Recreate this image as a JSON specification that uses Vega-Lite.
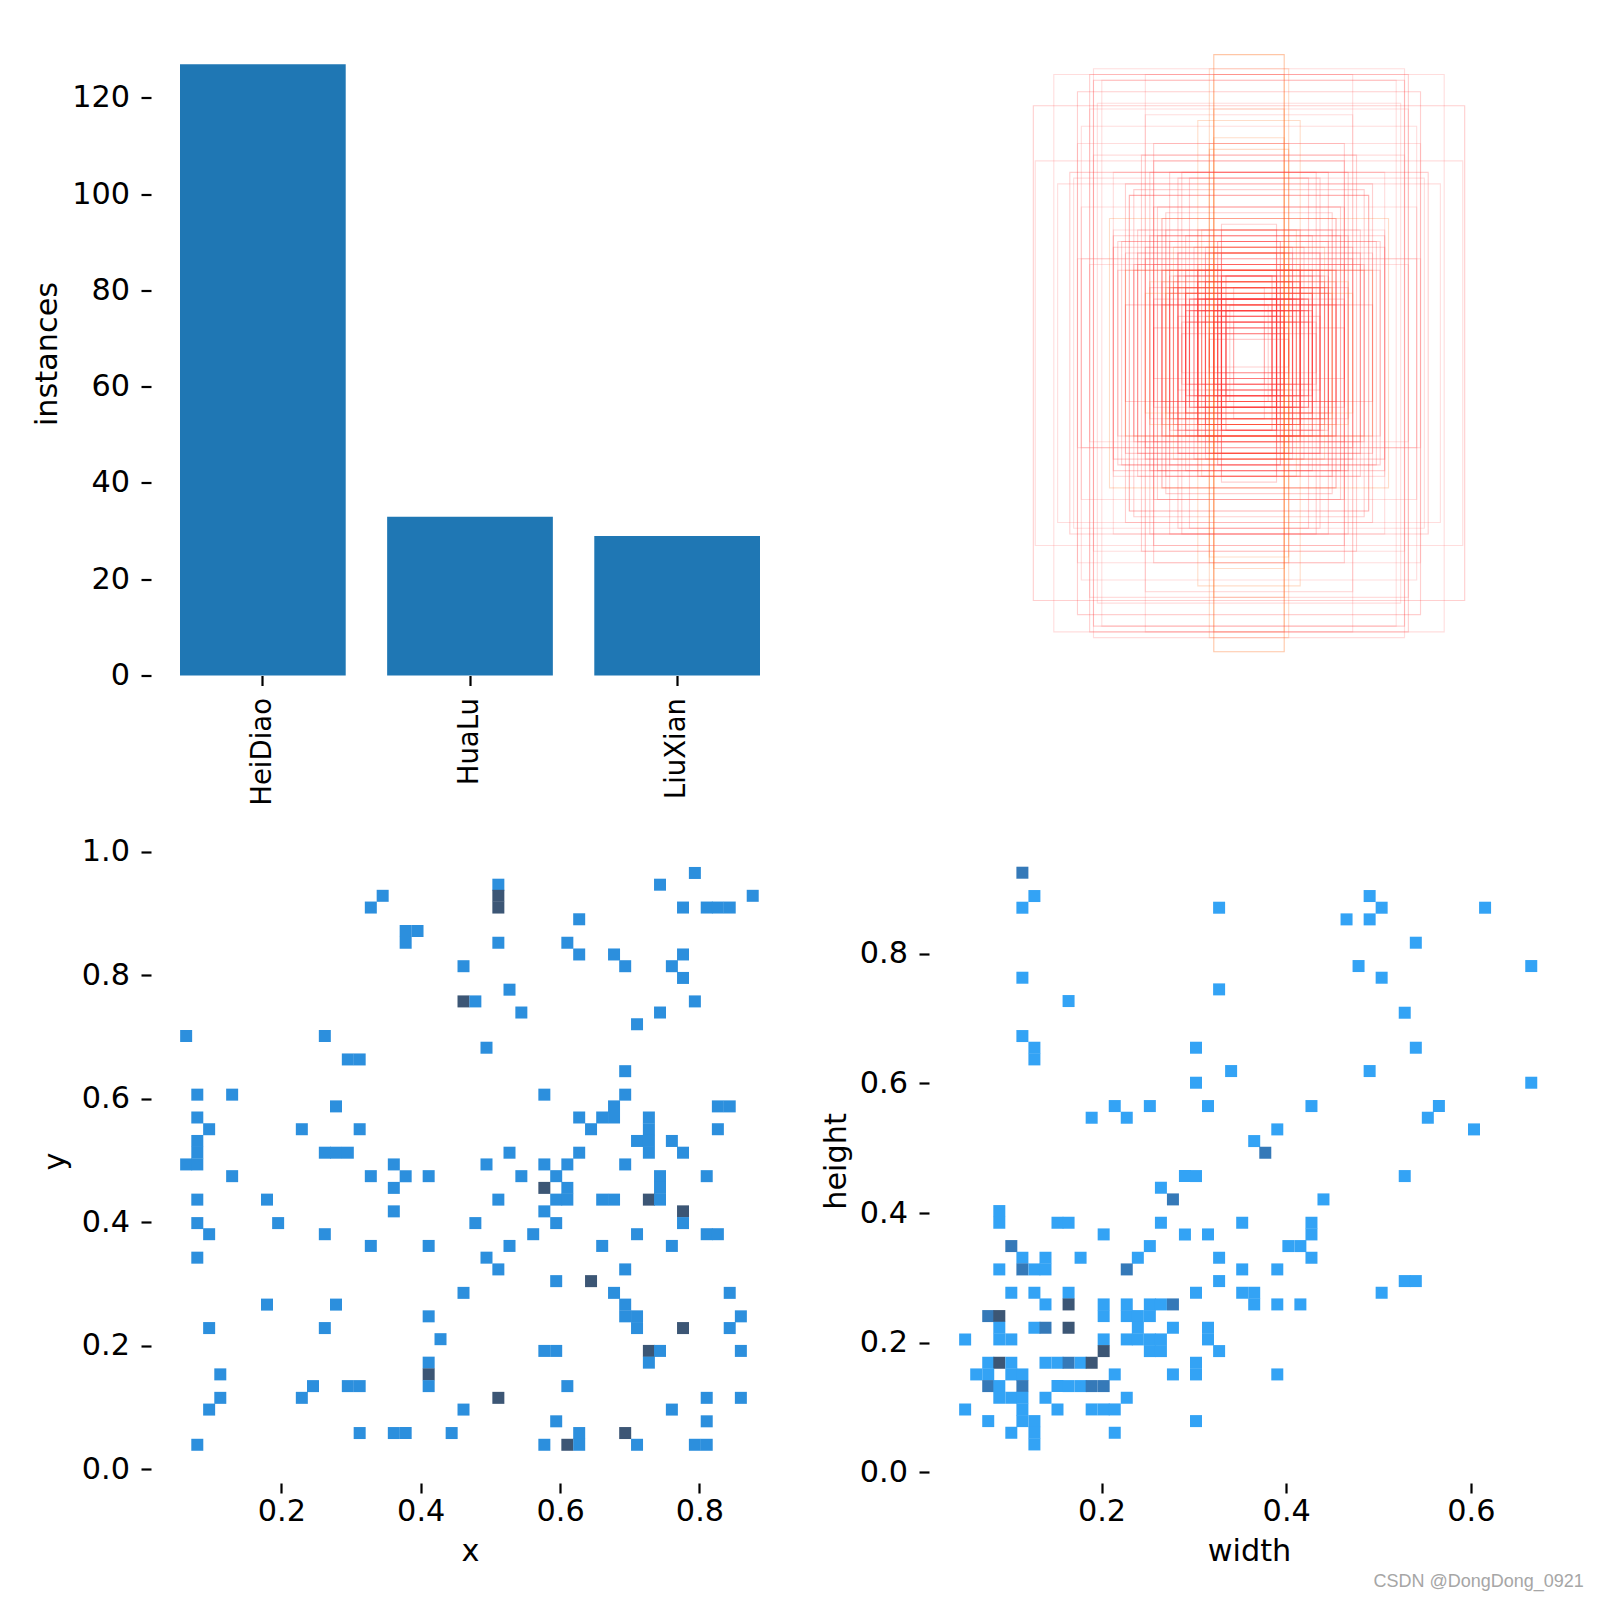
{"$schema":"https://vega.github.io/schema/vega-lite/v6.json","padding":{"left":32,"top":31.5,"right":0,"bottom":0},"background":"white","columns":2,"bounds":"flush","spacing":{"row":163.5,"column":140},"resolve":{"scale":{"color":"independent","stroke":"independent","strokeOpacity":"independent"}},
"config":{"view":{"stroke":null},"font":"DejaVu Sans","axis":{"domain":false,"grid":false,"tickColor":"#000","tickSize":10,"tickWidth":2.2,"labelColor":"#000","titleColor":"#000","labelFont":"DejaVu Sans","titleFont":"DejaVu Sans","labelFontSize":30.3,"titleFontSize":30.3,"titleFontWeight":"normal","labelPadding":11.5,"titlePadding":8,"labelOverlap":false,"labelFlush":false}},
"datasets":{
"classes":[{"name":"HeiDiao","count":127},{"name":"HuaLu","count":33},{"name":"LiuXian","count":29}],
"xy":[{"x":0.792,"y":0.966,"n":1},{"x":0.510,"y":0.947,"n":1},{"x":0.742,"y":0.947,"n":1},{"x":0.344,"y":0.929,"n":1},{"x":0.510,"y":0.929,"n":2},{"x":0.875,"y":0.929,"n":1},{"x":0.327,"y":0.910,"n":1},{"x":0.510,"y":0.910,"n":2},{"x":0.775,"y":0.910,"n":1},{"x":0.809,"y":0.910,"n":1},{"x":0.825,"y":0.910,"n":1},{"x":0.842,"y":0.910,"n":1},{"x":0.626,"y":0.891,"n":1},{"x":0.377,"y":0.872,"n":1},{"x":0.394,"y":0.872,"n":1},{"x":0.377,"y":0.853,"n":1},{"x":0.510,"y":0.853,"n":1},{"x":0.609,"y":0.853,"n":1},{"x":0.626,"y":0.834,"n":1},{"x":0.676,"y":0.834,"n":1},{"x":0.775,"y":0.834,"n":1},{"x":0.460,"y":0.815,"n":1},{"x":0.692,"y":0.815,"n":1},{"x":0.759,"y":0.815,"n":1},{"x":0.775,"y":0.796,"n":1},{"x":0.526,"y":0.777,"n":1},{"x":0.460,"y":0.758,"n":2},{"x":0.477,"y":0.758,"n":1},{"x":0.792,"y":0.758,"n":1},{"x":0.543,"y":0.740,"n":1},{"x":0.742,"y":0.740,"n":1},{"x":0.709,"y":0.721,"n":1},{"x":0.062,"y":0.702,"n":1},{"x":0.261,"y":0.702,"n":1},{"x":0.493,"y":0.683,"n":1},{"x":0.294,"y":0.664,"n":1},{"x":0.311,"y":0.664,"n":1},{"x":0.692,"y":0.645,"n":1},{"x":0.078,"y":0.607,"n":1},{"x":0.128,"y":0.607,"n":1},{"x":0.576,"y":0.607,"n":1},{"x":0.692,"y":0.607,"n":1},{"x":0.277,"y":0.588,"n":1},{"x":0.676,"y":0.588,"n":1},{"x":0.825,"y":0.588,"n":1},{"x":0.842,"y":0.588,"n":1},{"x":0.078,"y":0.570,"n":1},{"x":0.626,"y":0.570,"n":1},{"x":0.659,"y":0.570,"n":1},{"x":0.676,"y":0.570,"n":1},{"x":0.726,"y":0.570,"n":1},{"x":0.095,"y":0.551,"n":1},{"x":0.228,"y":0.551,"n":1},{"x":0.311,"y":0.551,"n":1},{"x":0.643,"y":0.551,"n":1},{"x":0.726,"y":0.551,"n":1},{"x":0.825,"y":0.551,"n":1},{"x":0.078,"y":0.532,"n":1},{"x":0.709,"y":0.532,"n":1},{"x":0.726,"y":0.532,"n":1},{"x":0.759,"y":0.532,"n":1},{"x":0.078,"y":0.513,"n":1},{"x":0.261,"y":0.513,"n":1},{"x":0.277,"y":0.513,"n":1},{"x":0.294,"y":0.513,"n":1},{"x":0.526,"y":0.513,"n":1},{"x":0.626,"y":0.513,"n":1},{"x":0.726,"y":0.513,"n":1},{"x":0.775,"y":0.513,"n":1},{"x":0.062,"y":0.494,"n":1},{"x":0.078,"y":0.494,"n":1},{"x":0.360,"y":0.494,"n":1},{"x":0.493,"y":0.494,"n":1},{"x":0.576,"y":0.494,"n":1},{"x":0.609,"y":0.494,"n":1},{"x":0.692,"y":0.494,"n":1},{"x":0.128,"y":0.475,"n":1},{"x":0.327,"y":0.475,"n":1},{"x":0.377,"y":0.475,"n":1},{"x":0.410,"y":0.475,"n":1},{"x":0.543,"y":0.475,"n":1},{"x":0.593,"y":0.475,"n":1},{"x":0.742,"y":0.475,"n":1},{"x":0.809,"y":0.475,"n":1},{"x":0.360,"y":0.456,"n":1},{"x":0.576,"y":0.456,"n":2},{"x":0.609,"y":0.456,"n":1},{"x":0.742,"y":0.456,"n":1},{"x":0.078,"y":0.437,"n":1},{"x":0.178,"y":0.437,"n":1},{"x":0.510,"y":0.437,"n":1},{"x":0.593,"y":0.437,"n":1},{"x":0.609,"y":0.437,"n":1},{"x":0.659,"y":0.437,"n":1},{"x":0.676,"y":0.437,"n":1},{"x":0.726,"y":0.437,"n":2},{"x":0.742,"y":0.437,"n":1},{"x":0.360,"y":0.418,"n":1},{"x":0.576,"y":0.418,"n":1},{"x":0.775,"y":0.418,"n":2},{"x":0.078,"y":0.399,"n":1},{"x":0.194,"y":0.399,"n":1},{"x":0.477,"y":0.399,"n":1},{"x":0.593,"y":0.399,"n":1},{"x":0.775,"y":0.399,"n":1},{"x":0.095,"y":0.381,"n":1},{"x":0.261,"y":0.381,"n":1},{"x":0.560,"y":0.381,"n":1},{"x":0.709,"y":0.381,"n":1},{"x":0.809,"y":0.381,"n":1},{"x":0.825,"y":0.381,"n":1},{"x":0.327,"y":0.362,"n":1},{"x":0.410,"y":0.362,"n":1},{"x":0.526,"y":0.362,"n":1},{"x":0.659,"y":0.362,"n":1},{"x":0.759,"y":0.362,"n":1},{"x":0.078,"y":0.343,"n":1},{"x":0.493,"y":0.343,"n":1},{"x":0.510,"y":0.324,"n":1},{"x":0.692,"y":0.324,"n":1},{"x":0.593,"y":0.305,"n":1},{"x":0.643,"y":0.305,"n":2},{"x":0.460,"y":0.286,"n":1},{"x":0.676,"y":0.286,"n":1},{"x":0.842,"y":0.286,"n":1},{"x":0.178,"y":0.267,"n":1},{"x":0.277,"y":0.267,"n":1},{"x":0.692,"y":0.267,"n":1},{"x":0.410,"y":0.248,"n":1},{"x":0.692,"y":0.248,"n":1},{"x":0.709,"y":0.248,"n":1},{"x":0.858,"y":0.248,"n":1},{"x":0.095,"y":0.229,"n":1},{"x":0.261,"y":0.229,"n":1},{"x":0.709,"y":0.229,"n":1},{"x":0.775,"y":0.229,"n":2},{"x":0.842,"y":0.229,"n":1},{"x":0.427,"y":0.211,"n":1},{"x":0.576,"y":0.192,"n":1},{"x":0.593,"y":0.192,"n":1},{"x":0.726,"y":0.192,"n":2},{"x":0.742,"y":0.192,"n":1},{"x":0.858,"y":0.192,"n":1},{"x":0.410,"y":0.173,"n":1},{"x":0.726,"y":0.173,"n":1},{"x":0.111,"y":0.154,"n":1},{"x":0.410,"y":0.154,"n":2},{"x":0.244,"y":0.135,"n":1},{"x":0.294,"y":0.135,"n":1},{"x":0.311,"y":0.135,"n":1},{"x":0.410,"y":0.135,"n":1},{"x":0.609,"y":0.135,"n":1},{"x":0.111,"y":0.116,"n":1},{"x":0.228,"y":0.116,"n":1},{"x":0.510,"y":0.116,"n":2},{"x":0.809,"y":0.116,"n":1},{"x":0.858,"y":0.116,"n":1},{"x":0.095,"y":0.097,"n":1},{"x":0.460,"y":0.097,"n":1},{"x":0.759,"y":0.097,"n":1},{"x":0.593,"y":0.078,"n":1},{"x":0.809,"y":0.078,"n":1},{"x":0.311,"y":0.059,"n":1},{"x":0.360,"y":0.059,"n":1},{"x":0.377,"y":0.059,"n":1},{"x":0.443,"y":0.059,"n":1},{"x":0.626,"y":0.059,"n":1},{"x":0.692,"y":0.059,"n":2},{"x":0.078,"y":0.040,"n":1},{"x":0.576,"y":0.040,"n":1},{"x":0.609,"y":0.040,"n":2},{"x":0.626,"y":0.040,"n":1},{"x":0.709,"y":0.040,"n":1},{"x":0.792,"y":0.040,"n":1},{"x":0.809,"y":0.040,"n":1}],
"boxes":[{"w":0.110,"h":0.925,"n":2,"l":0.445,"r":0.555,"b":0.034,"t":0.967,"c":"LiuXian"},{"w":0.123,"h":0.889,"n":1,"l":0.438,"r":0.562,"b":0.056,"t":0.945,"c":"LiuXian"},{"w":0.486,"h":0.889,"n":1,"l":0.257,"r":0.743,"b":0.056,"t":0.945,"c":"HuaLu"},{"w":0.110,"h":0.871,"n":1,"l":0.445,"r":0.555,"b":0.065,"t":0.936,"c":"LiuXian"},{"w":0.323,"h":0.871,"n":1,"l":0.338,"r":0.662,"b":0.065,"t":0.936,"c":"HuaLu"},{"w":0.499,"h":0.871,"n":1,"l":0.251,"r":0.749,"b":0.065,"t":0.936,"c":"HeiDiao"},{"w":0.611,"h":0.871,"n":1,"l":0.195,"r":0.805,"b":0.065,"t":0.936,"c":"HuaLu"},{"w":0.461,"h":0.853,"n":1,"l":0.270,"r":0.730,"b":0.074,"t":0.927,"c":"HuaLu"},{"w":0.486,"h":0.853,"n":1,"l":0.257,"r":0.743,"b":0.074,"t":0.927,"c":"HeiDiao"},{"w":0.536,"h":0.817,"n":1,"l":0.232,"r":0.768,"b":0.092,"t":0.909,"c":"HeiDiao"},{"w":0.474,"h":0.781,"n":1,"l":0.263,"r":0.737,"b":0.110,"t":0.891,"c":"HuaLu"},{"w":0.661,"h":0.781,"n":1,"l":0.163,"r":0.837,"b":0.114,"t":0.887,"c":"HeiDiao"},{"w":0.110,"h":0.763,"n":1,"l":0.445,"r":0.555,"b":0.119,"t":0.882,"c":"LiuXian"},{"w":0.499,"h":0.763,"n":1,"l":0.251,"r":0.749,"b":0.119,"t":0.882,"c":"HuaLu"},{"w":0.323,"h":0.745,"n":1,"l":0.338,"r":0.662,"b":0.128,"t":0.873,"c":"HuaLu"},{"w":0.160,"h":0.727,"n":1,"l":0.420,"r":0.580,"b":0.137,"t":0.864,"c":"LiuXian"},{"w":0.524,"h":0.709,"n":1,"l":0.238,"r":0.762,"b":0.146,"t":0.855,"c":"HuaLu"},{"w":0.110,"h":0.673,"n":1,"l":0.445,"r":0.555,"b":0.164,"t":0.837,"c":"LiuXian"},{"w":0.123,"h":0.655,"n":1,"l":0.438,"r":0.562,"b":0.173,"t":0.828,"c":"LiuXian"},{"w":0.298,"h":0.655,"n":1,"l":0.351,"r":0.649,"b":0.173,"t":0.828,"c":"HeiDiao"},{"w":0.536,"h":0.655,"n":1,"l":0.232,"r":0.768,"b":0.173,"t":0.828,"c":"HuaLu"},{"w":0.123,"h":0.637,"n":1,"l":0.438,"r":0.562,"b":0.182,"t":0.819,"c":"LiuXian"},{"w":0.336,"h":0.619,"n":1,"l":0.332,"r":0.668,"b":0.191,"t":0.810,"c":"HeiDiao"},{"w":0.486,"h":0.619,"n":1,"l":0.257,"r":0.743,"b":0.191,"t":0.810,"c":"HuaLu"},{"w":0.298,"h":0.601,"n":1,"l":0.351,"r":0.649,"b":0.200,"t":0.801,"c":"HeiDiao"},{"w":0.661,"h":0.601,"n":1,"l":0.166,"r":0.834,"b":0.200,"t":0.801,"c":"HuaLu"},{"w":0.210,"h":0.565,"n":1,"l":0.395,"r":0.605,"b":0.218,"t":0.783,"c":"HeiDiao"},{"w":0.248,"h":0.565,"n":1,"l":0.376,"r":0.624,"b":0.218,"t":0.783,"c":"HeiDiao"},{"w":0.311,"h":0.565,"n":1,"l":0.345,"r":0.655,"b":0.218,"t":0.783,"c":"HeiDiao"},{"w":0.423,"h":0.565,"n":1,"l":0.288,"r":0.712,"b":0.218,"t":0.783,"c":"HuaLu"},{"w":0.561,"h":0.565,"n":1,"l":0.220,"r":0.780,"b":0.218,"t":0.783,"c":"HeiDiao"},{"w":0.185,"h":0.547,"n":1,"l":0.407,"r":0.593,"b":0.227,"t":0.774,"c":"HeiDiao"},{"w":0.223,"h":0.547,"n":1,"l":0.389,"r":0.611,"b":0.227,"t":0.774,"c":"HeiDiao"},{"w":0.549,"h":0.547,"n":1,"l":0.226,"r":0.774,"b":0.227,"t":0.774,"c":"HuaLu"},{"w":0.386,"h":0.529,"n":1,"l":0.307,"r":0.693,"b":0.236,"t":0.765,"c":"HeiDiao"},{"w":0.599,"h":0.529,"n":1,"l":0.201,"r":0.799,"b":0.236,"t":0.765,"c":"HuaLu"},{"w":0.361,"h":0.511,"n":1,"l":0.320,"r":0.680,"b":0.245,"t":0.756,"c":"HeiDiao"},{"w":0.373,"h":0.493,"n":2,"l":0.313,"r":0.687,"b":0.254,"t":0.747,"c":"HeiDiao"},{"w":0.286,"h":0.457,"n":1,"l":0.357,"r":0.643,"b":0.272,"t":0.729,"c":"HeiDiao"},{"w":0.298,"h":0.457,"n":1,"l":0.351,"r":0.649,"b":0.272,"t":0.729,"c":"HeiDiao"},{"w":0.524,"h":0.457,"n":1,"l":0.238,"r":0.762,"b":0.272,"t":0.729,"c":"HuaLu"},{"w":0.260,"h":0.439,"n":1,"l":0.370,"r":0.630,"b":0.281,"t":0.720,"c":"HeiDiao"},{"w":0.273,"h":0.421,"n":2,"l":0.364,"r":0.636,"b":0.290,"t":0.711,"c":"HeiDiao"},{"w":0.436,"h":0.421,"n":1,"l":0.282,"r":0.718,"b":0.290,"t":0.711,"c":"LiuXian"},{"w":0.085,"h":0.403,"n":1,"l":0.457,"r":0.543,"b":0.299,"t":0.702,"c":"HeiDiao"},{"w":0.085,"h":0.385,"n":1,"l":0.457,"r":0.543,"b":0.308,"t":0.693,"c":"HeiDiao"},{"w":0.148,"h":0.385,"n":1,"l":0.426,"r":0.574,"b":0.308,"t":0.693,"c":"LiuXian"},{"w":0.160,"h":0.385,"n":1,"l":0.420,"r":0.580,"b":0.308,"t":0.693,"c":"HeiDiao"},{"w":0.260,"h":0.385,"n":1,"l":0.370,"r":0.630,"b":0.308,"t":0.693,"c":"HeiDiao"},{"w":0.348,"h":0.385,"n":1,"l":0.326,"r":0.674,"b":0.308,"t":0.693,"c":"HeiDiao"},{"w":0.423,"h":0.385,"n":1,"l":0.288,"r":0.712,"b":0.308,"t":0.693,"c":"HuaLu"},{"w":0.198,"h":0.367,"n":1,"l":0.401,"r":0.599,"b":0.317,"t":0.684,"c":"HeiDiao"},{"w":0.286,"h":0.367,"n":1,"l":0.357,"r":0.643,"b":0.317,"t":0.684,"c":"HeiDiao"},{"w":0.311,"h":0.367,"n":1,"l":0.345,"r":0.655,"b":0.317,"t":0.684,"c":"HeiDiao"},{"w":0.423,"h":0.367,"n":1,"l":0.288,"r":0.712,"b":0.317,"t":0.684,"c":"HeiDiao"},{"w":0.098,"h":0.349,"n":2,"l":0.451,"r":0.549,"b":0.326,"t":0.675,"c":"HeiDiao"},{"w":0.248,"h":0.349,"n":1,"l":0.376,"r":0.624,"b":0.326,"t":0.675,"c":"HeiDiao"},{"w":0.398,"h":0.349,"n":1,"l":0.301,"r":0.699,"b":0.326,"t":0.675,"c":"HeiDiao"},{"w":0.411,"h":0.349,"n":1,"l":0.295,"r":0.705,"b":0.326,"t":0.675,"c":"HeiDiao"},{"w":0.110,"h":0.331,"n":1,"l":0.445,"r":0.555,"b":0.335,"t":0.666,"c":"LiuXian"},{"w":0.135,"h":0.331,"n":1,"l":0.432,"r":0.568,"b":0.335,"t":0.666,"c":"HeiDiao"},{"w":0.173,"h":0.331,"n":1,"l":0.414,"r":0.586,"b":0.335,"t":0.666,"c":"HeiDiao"},{"w":0.235,"h":0.331,"n":1,"l":0.382,"r":0.618,"b":0.335,"t":0.666,"c":"LiuXian"},{"w":0.323,"h":0.331,"n":1,"l":0.338,"r":0.662,"b":0.335,"t":0.666,"c":"HeiDiao"},{"w":0.423,"h":0.331,"n":1,"l":0.288,"r":0.712,"b":0.335,"t":0.666,"c":"HeiDiao"},{"w":0.085,"h":0.313,"n":1,"l":0.457,"r":0.543,"b":0.344,"t":0.657,"c":"HeiDiao"},{"w":0.110,"h":0.313,"n":2,"l":0.445,"r":0.555,"b":0.344,"t":0.657,"c":"LiuXian"},{"w":0.123,"h":0.313,"n":1,"l":0.438,"r":0.562,"b":0.344,"t":0.657,"c":"LiuXian"},{"w":0.135,"h":0.313,"n":1,"l":0.432,"r":0.568,"b":0.344,"t":0.657,"c":"HeiDiao"},{"w":0.223,"h":0.313,"n":2,"l":0.389,"r":0.611,"b":0.344,"t":0.657,"c":"HeiDiao"},{"w":0.348,"h":0.313,"n":1,"l":0.326,"r":0.674,"b":0.344,"t":0.657,"c":"HeiDiao"},{"w":0.386,"h":0.313,"n":1,"l":0.307,"r":0.693,"b":0.344,"t":0.657,"c":"HeiDiao"},{"w":0.323,"h":0.295,"n":1,"l":0.338,"r":0.662,"b":0.353,"t":0.648,"c":"HeiDiao"},{"w":0.524,"h":0.295,"n":1,"l":0.238,"r":0.762,"b":0.353,"t":0.648,"c":"HuaLu"},{"w":0.536,"h":0.295,"n":1,"l":0.232,"r":0.768,"b":0.353,"t":0.648,"c":"HuaLu"},{"w":0.098,"h":0.277,"n":1,"l":0.451,"r":0.549,"b":0.362,"t":0.639,"c":"HeiDiao"},{"w":0.123,"h":0.277,"n":1,"l":0.438,"r":0.562,"b":0.362,"t":0.639,"c":"LiuXian"},{"w":0.160,"h":0.277,"n":1,"l":0.420,"r":0.580,"b":0.362,"t":0.639,"c":"HeiDiao"},{"w":0.298,"h":0.277,"n":1,"l":0.351,"r":0.649,"b":0.362,"t":0.639,"c":"HeiDiao"},{"w":0.348,"h":0.277,"n":1,"l":0.326,"r":0.674,"b":0.362,"t":0.639,"c":"HeiDiao"},{"w":0.361,"h":0.277,"n":1,"l":0.320,"r":0.680,"b":0.362,"t":0.639,"c":"HeiDiao"},{"w":0.499,"h":0.277,"n":1,"l":0.251,"r":0.749,"b":0.362,"t":0.639,"c":"HuaLu"},{"w":0.135,"h":0.259,"n":1,"l":0.432,"r":0.568,"b":0.371,"t":0.630,"c":"HeiDiao"},{"w":0.160,"h":0.259,"n":3,"l":0.420,"r":0.580,"b":0.371,"t":0.630,"c":"HeiDiao"},{"w":0.198,"h":0.259,"n":1,"l":0.401,"r":0.599,"b":0.371,"t":0.630,"c":"HeiDiao"},{"w":0.223,"h":0.259,"n":1,"l":0.389,"r":0.611,"b":0.371,"t":0.630,"c":"HeiDiao"},{"w":0.248,"h":0.259,"n":1,"l":0.376,"r":0.624,"b":0.371,"t":0.630,"c":"HeiDiao"},{"w":0.260,"h":0.259,"n":1,"l":0.370,"r":0.630,"b":0.371,"t":0.630,"c":"LiuXian"},{"w":0.273,"h":0.259,"n":2,"l":0.364,"r":0.636,"b":0.371,"t":0.630,"c":"HeiDiao"},{"w":0.361,"h":0.259,"n":1,"l":0.320,"r":0.680,"b":0.371,"t":0.630,"c":"HeiDiao"},{"w":0.386,"h":0.259,"n":1,"l":0.307,"r":0.693,"b":0.371,"t":0.630,"c":"LiuXian"},{"w":0.411,"h":0.259,"n":1,"l":0.295,"r":0.705,"b":0.371,"t":0.630,"c":"HeiDiao"},{"w":0.073,"h":0.241,"n":2,"l":0.464,"r":0.536,"b":0.380,"t":0.621,"c":"HeiDiao"},{"w":0.085,"h":0.241,"n":3,"l":0.457,"r":0.543,"b":0.380,"t":0.621,"c":"HeiDiao"},{"w":0.198,"h":0.241,"n":1,"l":0.401,"r":0.599,"b":0.380,"t":0.621,"c":"HeiDiao"},{"w":0.223,"h":0.241,"n":1,"l":0.389,"r":0.611,"b":0.380,"t":0.621,"c":"HeiDiao"},{"w":0.235,"h":0.241,"n":1,"l":0.382,"r":0.618,"b":0.380,"t":0.621,"c":"HeiDiao"},{"w":0.248,"h":0.241,"n":1,"l":0.376,"r":0.624,"b":0.380,"t":0.621,"c":"HeiDiao"},{"w":0.085,"h":0.223,"n":1,"l":0.457,"r":0.543,"b":0.389,"t":0.612,"c":"HeiDiao"},{"w":0.123,"h":0.223,"n":1,"l":0.438,"r":0.562,"b":0.389,"t":0.612,"c":"LiuXian"},{"w":0.135,"h":0.223,"n":2,"l":0.432,"r":0.568,"b":0.389,"t":0.612,"c":"HeiDiao"},{"w":0.160,"h":0.223,"n":3,"l":0.420,"r":0.580,"b":0.389,"t":0.612,"c":"HeiDiao"},{"w":0.235,"h":0.223,"n":1,"l":0.382,"r":0.618,"b":0.389,"t":0.612,"c":"HeiDiao"},{"w":0.273,"h":0.223,"n":1,"l":0.364,"r":0.636,"b":0.389,"t":0.612,"c":"HeiDiao"},{"w":0.311,"h":0.223,"n":1,"l":0.345,"r":0.655,"b":0.389,"t":0.612,"c":"LiuXian"},{"w":0.048,"h":0.205,"n":1,"l":0.476,"r":0.524,"b":0.398,"t":0.603,"c":"HeiDiao"},{"w":0.085,"h":0.205,"n":1,"l":0.457,"r":0.543,"b":0.398,"t":0.603,"c":"HeiDiao"},{"w":0.098,"h":0.205,"n":1,"l":0.451,"r":0.549,"b":0.398,"t":0.603,"c":"HeiDiao"},{"w":0.198,"h":0.205,"n":1,"l":0.401,"r":0.599,"b":0.398,"t":0.603,"c":"HeiDiao"},{"w":0.223,"h":0.205,"n":1,"l":0.389,"r":0.611,"b":0.398,"t":0.603,"c":"HeiDiao"},{"w":0.235,"h":0.205,"n":1,"l":0.382,"r":0.618,"b":0.398,"t":0.603,"c":"HeiDiao"},{"w":0.248,"h":0.205,"n":1,"l":0.376,"r":0.624,"b":0.398,"t":0.603,"c":"HeiDiao"},{"w":0.260,"h":0.205,"n":1,"l":0.370,"r":0.630,"b":0.398,"t":0.603,"c":"LiuXian"},{"w":0.311,"h":0.205,"n":1,"l":0.345,"r":0.655,"b":0.398,"t":0.603,"c":"HeiDiao"},{"w":0.198,"h":0.187,"n":3,"l":0.401,"r":0.599,"b":0.407,"t":0.594,"c":"HeiDiao"},{"w":0.248,"h":0.187,"n":1,"l":0.376,"r":0.624,"b":0.407,"t":0.594,"c":"HeiDiao"},{"w":0.260,"h":0.187,"n":1,"l":0.370,"r":0.630,"b":0.407,"t":0.594,"c":"HeiDiao"},{"w":0.323,"h":0.187,"n":1,"l":0.338,"r":0.662,"b":0.407,"t":0.594,"c":"LiuXian"},{"w":0.073,"h":0.169,"n":1,"l":0.464,"r":0.536,"b":0.416,"t":0.585,"c":"HeiDiao"},{"w":0.085,"h":0.169,"n":3,"l":0.457,"r":0.543,"b":0.416,"t":0.585,"c":"HeiDiao"},{"w":0.098,"h":0.169,"n":1,"l":0.451,"r":0.549,"b":0.416,"t":0.585,"c":"HeiDiao"},{"w":0.135,"h":0.169,"n":1,"l":0.432,"r":0.568,"b":0.416,"t":0.585,"c":"HeiDiao"},{"w":0.148,"h":0.169,"n":1,"l":0.426,"r":0.574,"b":0.416,"t":0.585,"c":"HeiDiao"},{"w":0.160,"h":0.169,"n":2,"l":0.420,"r":0.580,"b":0.416,"t":0.585,"c":"HeiDiao"},{"w":0.173,"h":0.169,"n":1,"l":0.414,"r":0.586,"b":0.416,"t":0.585,"c":"HeiDiao"},{"w":0.185,"h":0.169,"n":3,"l":0.407,"r":0.593,"b":0.416,"t":0.585,"c":"HeiDiao"},{"w":0.298,"h":0.169,"n":1,"l":0.351,"r":0.649,"b":0.416,"t":0.585,"c":"HeiDiao"},{"w":0.060,"h":0.151,"n":1,"l":0.470,"r":0.530,"b":0.425,"t":0.576,"c":"HeiDiao"},{"w":0.073,"h":0.151,"n":1,"l":0.464,"r":0.536,"b":0.425,"t":0.576,"c":"HeiDiao"},{"w":0.098,"h":0.151,"n":1,"l":0.451,"r":0.549,"b":0.425,"t":0.576,"c":"HeiDiao"},{"w":0.110,"h":0.151,"n":1,"l":0.445,"r":0.555,"b":0.425,"t":0.576,"c":"LiuXian"},{"w":0.210,"h":0.151,"n":1,"l":0.395,"r":0.605,"b":0.425,"t":0.576,"c":"HeiDiao"},{"w":0.273,"h":0.151,"n":1,"l":0.364,"r":0.636,"b":0.425,"t":0.576,"c":"HeiDiao"},{"w":0.298,"h":0.151,"n":1,"l":0.351,"r":0.649,"b":0.425,"t":0.576,"c":"HeiDiao"},{"w":0.386,"h":0.151,"n":1,"l":0.307,"r":0.693,"b":0.425,"t":0.576,"c":"HeiDiao"},{"w":0.073,"h":0.133,"n":2,"l":0.464,"r":0.536,"b":0.434,"t":0.567,"c":"HeiDiao"},{"w":0.085,"h":0.133,"n":1,"l":0.457,"r":0.543,"b":0.434,"t":0.567,"c":"HeiDiao"},{"w":0.110,"h":0.133,"n":2,"l":0.445,"r":0.555,"b":0.434,"t":0.567,"c":"HeiDiao"},{"w":0.148,"h":0.133,"n":1,"l":0.426,"r":0.574,"b":0.434,"t":0.567,"c":"HeiDiao"},{"w":0.160,"h":0.133,"n":1,"l":0.420,"r":0.580,"b":0.434,"t":0.567,"c":"HeiDiao"},{"w":0.173,"h":0.133,"n":1,"l":0.414,"r":0.586,"b":0.434,"t":0.567,"c":"HeiDiao"},{"w":0.185,"h":0.133,"n":2,"l":0.407,"r":0.593,"b":0.434,"t":0.567,"c":"HeiDiao"},{"w":0.198,"h":0.133,"n":2,"l":0.401,"r":0.599,"b":0.434,"t":0.567,"c":"HeiDiao"},{"w":0.085,"h":0.115,"n":1,"l":0.457,"r":0.543,"b":0.443,"t":0.558,"c":"HeiDiao"},{"w":0.098,"h":0.115,"n":1,"l":0.451,"r":0.549,"b":0.443,"t":0.558,"c":"HeiDiao"},{"w":0.110,"h":0.115,"n":1,"l":0.445,"r":0.555,"b":0.443,"t":0.558,"c":"HeiDiao"},{"w":0.135,"h":0.115,"n":1,"l":0.432,"r":0.568,"b":0.443,"t":0.558,"c":"HeiDiao"},{"w":0.223,"h":0.115,"n":1,"l":0.389,"r":0.611,"b":0.443,"t":0.558,"c":"HeiDiao"},{"w":0.048,"h":0.097,"n":1,"l":0.476,"r":0.524,"b":0.452,"t":0.549,"c":"HeiDiao"},{"w":0.110,"h":0.097,"n":1,"l":0.445,"r":0.555,"b":0.452,"t":0.549,"c":"HeiDiao"},{"w":0.148,"h":0.097,"n":1,"l":0.426,"r":0.574,"b":0.452,"t":0.549,"c":"HeiDiao"},{"w":0.185,"h":0.097,"n":1,"l":0.407,"r":0.593,"b":0.452,"t":0.549,"c":"HeiDiao"},{"w":0.198,"h":0.097,"n":1,"l":0.401,"r":0.599,"b":0.452,"t":0.549,"c":"HeiDiao"},{"w":0.210,"h":0.097,"n":1,"l":0.395,"r":0.605,"b":0.452,"t":0.549,"c":"HeiDiao"},{"w":0.073,"h":0.079,"n":1,"l":0.464,"r":0.536,"b":0.461,"t":0.540,"c":"HeiDiao"},{"w":0.110,"h":0.079,"n":1,"l":0.445,"r":0.555,"b":0.461,"t":0.540,"c":"HeiDiao"},{"w":0.123,"h":0.079,"n":1,"l":0.438,"r":0.562,"b":0.461,"t":0.540,"c":"HeiDiao"},{"w":0.298,"h":0.079,"n":1,"l":0.351,"r":0.649,"b":0.461,"t":0.540,"c":"HeiDiao"},{"w":0.098,"h":0.061,"n":1,"l":0.451,"r":0.549,"b":0.470,"t":0.531,"c":"HeiDiao"},{"w":0.123,"h":0.061,"n":1,"l":0.438,"r":0.562,"b":0.470,"t":0.531,"c":"HeiDiao"},{"w":0.210,"h":0.061,"n":1,"l":0.395,"r":0.605,"b":0.470,"t":0.531,"c":"HeiDiao"},{"w":0.123,"h":0.043,"n":1,"l":0.438,"r":0.562,"b":0.479,"t":0.522,"c":"HeiDiao"}],
"mark":[{"wx":0.7223,"wy":-0.169,"label":"CSDN @DongDong_0921"}]},
"concat":[
{"width":638,"height":644,"data":{"name":"classes"},"mark":{"type":"bar","color":"#1f77b4"},"encoding":{"x":{"field":"name","type":"nominal","sort":null,"scale":{"paddingInner":0.2,"paddingOuter":0.14},"axis":{"title":null,"labelAngle":-90,"labelFontSize":27.5,"labelPadding":12}},"y":{"field":"count","type":"quantitative","scale":{"domain":[0,133.8],"nice":false},"axis":{"title":"instances","titlePadding":9,"values":[0,20,40,60,80,100,120]}}}},
{"width":640,"height":644,"data":{"name":"boxes"},"mark":{"type":"rect","fillOpacity":0,"strokeWidth":1.1},"encoding":{"x":{"field":"l","type":"quantitative","scale":{"domain":[0,1],"nice":false},"axis":null},"x2":{"field":"r"},"y":{"field":"b","type":"quantitative","scale":{"domain":[-0.0031,1.0031],"nice":false},"axis":null},"y2":{"field":"t"},"stroke":{"field":"c","type":"nominal","scale":{"domain":["HeiDiao","HuaLu","LiuXian"],"range":["#FF3838","#FF6F6F","#FF701F"]},"legend":null},"strokeOpacity":{"field":"n","type":"quantitative","scale":{"domain":[1,3],"range":[0.24,0.55]},"legend":null}}},
{"width":638,"height":644,"data":{"name":"xy"},"mark":{"type":"rect","width":12,"height":12,"xOffset":1},"encoding":{"x":{"field":"x","type":"quantitative","scale":{"domain":[0.013,0.9285],"nice":false,"zero":false},"axis":{"title":"x","labelPadding":3.5,"titlePadding":9.5,"values":[0.2,0.4,0.6,0.8],"format":".1f"}},"y":{"field":"y","type":"quantitative","scale":{"domain":[-0.0219,1.021],"nice":false,"zero":false},"axis":{"title":"y","titlePadding":11,"values":[0,0.2,0.4,0.6,0.8,1],"format":".1f"}},"color":{"field":"n","type":"ordinal","scale":{"domain":[1,2],"range":["#2c8fdd","#3c5675"]},"legend":null}}},
{"width":640,"height":644,"layer":[{"data":{"name":"boxes"},"mark":{"type":"rect","width":12,"height":12,"xOffset":4},"encoding":{"x":{"field":"w","type":"quantitative","scale":{"domain":[0.0132,0.7062],"nice":false,"zero":false},"axis":{"title":"width","labelPadding":3.5,"titlePadding":9.5,"values":[0.2,0.4,0.6],"format":".1f"}},"y":{"field":"h","type":"quantitative","scale":{"domain":[-0.0165,0.977],"nice":false,"zero":false},"axis":{"title":"height","titlePadding":8,"values":[0,0.2,0.4,0.6,0.8],"format":".1f"}},"color":{"field":"n","type":"ordinal","scale":{"domain":[1,2,3],"range":["#33a3f5","#3579b8","#3c5675"]},"legend":null}}},{"data":{"name":"mark"},"mark":{"type":"text","align":"right","baseline":"middle","font":"Liberation Sans","fontSize":18,"color":"#a6a6a6"},"encoding":{"x":{"field":"wx","type":"quantitative"},"y":{"field":"wy","type":"quantitative"},"text":{"field":"label"}}}]}
]}
